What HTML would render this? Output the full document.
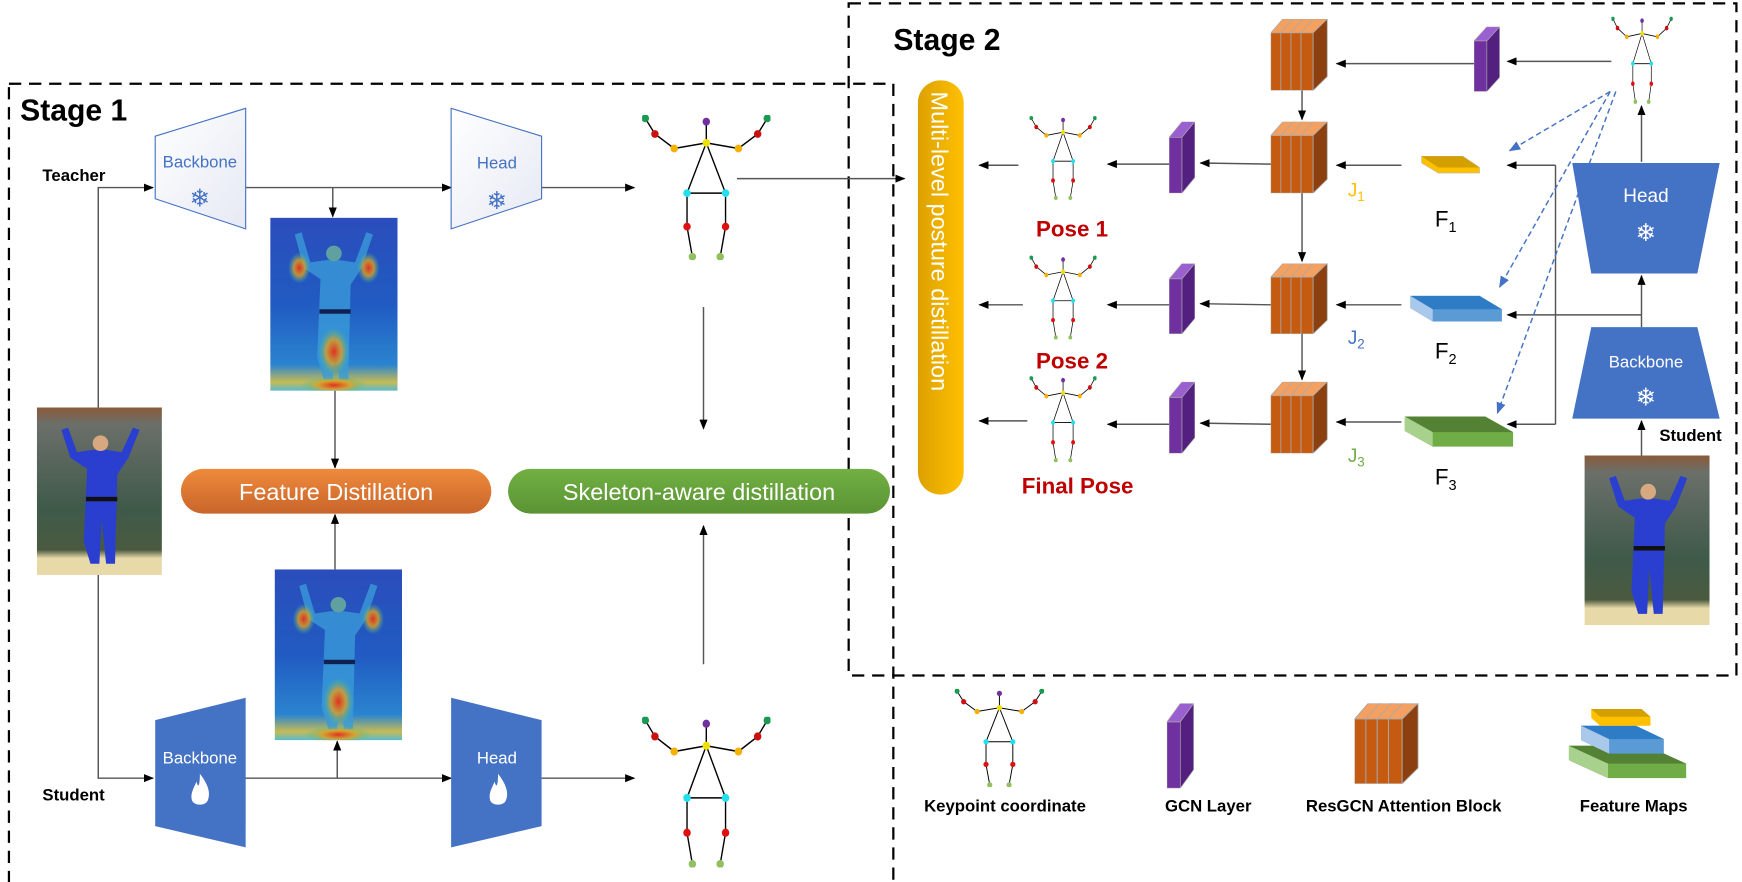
<!DOCTYPE html>
<html><head><meta charset="utf-8"><style>
html,body{margin:0;padding:0;background:#fff;}
svg{display:block;}
text{font-family:"Liberation Sans","DejaVu Sans",sans-serif;}
</style></head><body>
<svg width="1742" height="882" viewBox="0 0 1560 790" preserveAspectRatio="none" xmlns="http://www.w3.org/2000/svg">
<defs>
<marker id="ah" viewBox="0 0 10 10" refX="9" refY="5" markerWidth="7" markerHeight="7" orient="auto"><path d="M0,1 L10,5 L0,9 z" fill="#000"/></marker>
<marker id="ab" viewBox="0 0 10 10" refX="9" refY="5" markerWidth="8" markerHeight="8" orient="auto"><path d="M0,1 L10,5 L0,9 z" fill="#4472c4"/></marker>
<linearGradient id="gw" x1="0" y1="0" x2="1" y2="1"><stop offset="0" stop-color="#fff"/><stop offset="1" stop-color="#e6e9f4"/></linearGradient>
<linearGradient id="gor" x1="0" y1="0" x2="0" y2="1"><stop offset="0" stop-color="#ef8a3c"/><stop offset="1" stop-color="#c8652a"/></linearGradient>
<linearGradient id="ggr" x1="0" y1="0" x2="0" y2="1"><stop offset="0" stop-color="#72b043"/><stop offset="1" stop-color="#5a9434"/></linearGradient>
<linearGradient id="gye" x1="1" y1="0" x2="0" y2="0"><stop offset="0" stop-color="#ffc000"/><stop offset="1" stop-color="#dca100"/></linearGradient>
<linearGradient id="photo" x1="0" y1="0" x2="0" y2="1"><stop offset="0" stop-color="#8a5a3a"/><stop offset="0.1" stop-color="#6b6f6a"/><stop offset="0.6" stop-color="#3f5a4a"/><stop offset="0.85" stop-color="#4a5a40"/><stop offset="0.9" stop-color="#e8d9a8"/><stop offset="1" stop-color="#e8d9a8"/></linearGradient>
<linearGradient id="heat" x1="0" y1="0" x2="0" y2="1"><stop offset="0" stop-color="#2a3fb8"/><stop offset="0.5" stop-color="#1f4fc0"/><stop offset="0.85" stop-color="#2a7fd0"/><stop offset="0.95" stop-color="#e0c040"/><stop offset="1" stop-color="#60c0d0"/></linearGradient>
<radialGradient id="hot" cx="0.5" cy="0.5" r="0.5"><stop offset="0" stop-color="#e03020"/><stop offset="0.5" stop-color="#e0a020" stop-opacity="0.8"/><stop offset="1" stop-color="#30c0a0" stop-opacity="0"/></radialGradient>
<symbol id="sk" viewBox="0 0 120 130" preserveAspectRatio="none">
<g stroke="#000" stroke-width="1.3" fill="none">
<path d="M3,3 L12,17 L30,30 L60,25 L90,30 L108,17 L117,3"/>
<path d="M60,6 L60,25 L42,70 L78,70 L60,25"/>
<path d="M42,70 L42,100 L47,127 M78,70 L78,100 L73,127"/>
</g>
<g>
<circle cx="3" cy="3" r="3.5" fill="#1a9a50"/><circle cx="117" cy="3" r="3.5" fill="#1a9a50"/>
<circle cx="12" cy="17" r="3.5" fill="#cc1010"/><circle cx="108" cy="17" r="3.5" fill="#cc1010"/>
<circle cx="30" cy="30" r="3.5" fill="#f5b000"/><circle cx="90" cy="30" r="3.5" fill="#f5b000"/>
<circle cx="60" cy="6" r="3.5" fill="#7030a0"/><circle cx="60" cy="25" r="3.5" fill="#f0e000"/>
<circle cx="42" cy="70" r="3.5" fill="#20e0f0"/><circle cx="78" cy="70" r="3.5" fill="#20e0f0"/>
<circle cx="42" cy="100" r="3.5" fill="#e01010"/><circle cx="78" cy="100" r="3.5" fill="#e01010"/>
<circle cx="47" cy="127" r="3.5" fill="#90c060"/><circle cx="73" cy="127" r="3.5" fill="#90c060"/>
</g></symbol>
<symbol id="rg" viewBox="0 0 62 72" preserveAspectRatio="none">
<g stroke="#a9a9a9" stroke-width="0.8">
<polygon points="12,0 24,0 12,14 0,14" fill="#f4a060"/>
<polygon points="22,0 34,0 22,14 10,14" fill="#f4a060"/>
<polygon points="32,0 44,0 32,14 20,14" fill="#f4a060"/>
<polygon points="42,0 56,0 42,14 30,14" fill="#f4a060"/>
<rect x="0" y="14" width="10" height="58" fill="#c55a11"/>
<rect x="10" y="14" width="10" height="58" fill="#c55a11"/>
<rect x="20" y="14" width="10" height="58" fill="#c55a11"/>
<rect x="30" y="14" width="12" height="58" fill="#c55a11"/>
<polygon points="42,14 56,0 56,58 42,72" fill="#8c400f"/>
</g></symbol>
<symbol id="gc" viewBox="0 0 24 64" preserveAspectRatio="none">
<g stroke="#a9a9a9" stroke-width="0.6">
<polygon points="0,14 12,0 24,0 12,14" fill="#9a60d0"/>
<rect x="0" y="14" width="12" height="50" fill="#7030a0"/>
<polygon points="12,14 24,0 24,50 12,64" fill="#542080"/>
</g></symbol>
<symbol id="photo1" viewBox="0 0 112 150" preserveAspectRatio="none">
<rect width="112" height="150" fill="url(#photo)"/>
<path d="M22,20 L30,45 L45,55 L42,120 L48,140 L56,140 L58,100 L62,140 L70,140 L72,60 L82,45 L92,20 L86,18 L76,40 L62,38 L50,38 L36,40 L28,18 z" fill="#2a3fd0"/>
<circle cx="57" cy="32" r="7" fill="#d8a880"/>
<rect x="44" y="80" width="28" height="4" fill="#111"/>
</symbol>
<symbol id="heatimg" viewBox="0 0 114 155" preserveAspectRatio="none">
<rect width="114" height="155" fill="url(#heat)"/>
<rect x="0" y="0" width="114" height="155" fill="#30a0d0" opacity="0.15"/>
<path d="M22,15 L30,45 L45,55 L42,125 L48,145 L56,145 L58,105 L62,145 L70,145 L72,60 L82,45 L92,15 L86,13 L76,40 L62,38 L50,38 L36,40 L28,13 z" fill="#3a9ad8" opacity="0.8"/>
<ellipse cx="57" cy="120" rx="14" ry="22" fill="url(#hot)"/>
<ellipse cx="88" cy="45" rx="10" ry="14" fill="url(#hot)"/>
<ellipse cx="26" cy="45" rx="10" ry="14" fill="url(#hot)"/>
<ellipse cx="57" cy="150" rx="30" ry="8" fill="url(#hot)"/>
<circle cx="57" cy="32" r="7" fill="#60a0a0"/>
<rect x="44" y="82" width="28" height="4" fill="#102050"/>
</symbol>
</defs>

<rect x="8" y="75" width="792" height="718" fill="none" stroke="#000" stroke-width="2" stroke-dasharray="11,7"/>
<rect x="760" y="3" width="795" height="602" fill="none" stroke="#000" stroke-width="2" stroke-dasharray="11,7"/>
<text x="18" y="108" font-size="27" font-weight="bold">Stage 1</text>
<text x="800" y="45" font-size="27" font-weight="bold">Stage 2</text>

<text x="38" y="162" font-size="15" font-weight="bold">Teacher</text>
<text x="38" y="717" font-size="15" font-weight="bold">Student</text>
<use href="#photo1" x="33" y="365" width="112" height="150"/>
<g stroke="#555" stroke-width="1.3" fill="none">
<path d="M88,365 L88,168 L137,168" marker-end="url(#ah)"/>
<path d="M88,515 L88,697 L137,697" marker-end="url(#ah)"/>
<path d="M218,168 L404,168" marker-end="url(#ah)"/>
<path d="M298,168 L298,194" marker-end="url(#ah)"/>
<path d="M485,168 L568,168" marker-end="url(#ah)"/>
<path d="M660,160 L810,160" marker-end="url(#ah)"/>
<path d="M630,275 L630,384" marker-end="url(#ah)"/>
<path d="M300,350 L300,419" marker-end="url(#ah)"/>
<path d="M300,510 L300,461" marker-end="url(#ah)"/>
<path d="M630,595 L630,471" marker-end="url(#ah)"/>
<path d="M218,697 L404,697" marker-end="url(#ah)"/>
<path d="M302,697 L302,664" marker-end="url(#ah)"/>
<path d="M485,697 L568,697" marker-end="url(#ah)"/>
</g>
<polygon points="139,122 220,97 220,205 139,178" fill="url(#gw)" stroke="#4472c4" stroke-width="1"/>
<text x="179" y="150" font-size="15" fill="#4472c4" text-anchor="middle">Backbone</text>
<text x="179" y="185" font-size="22" fill="#4472c4" text-anchor="middle">❄</text>
<polygon points="404,97 485,122 485,178 404,205" fill="url(#gw)" stroke="#4472c4" stroke-width="1"/>
<text x="445" y="151" font-size="15" fill="#4472c4" text-anchor="middle">Head</text>
<text x="445" y="187" font-size="22" fill="#4472c4" text-anchor="middle">❄</text>
<use href="#heatimg" x="242" y="195" width="114" height="155"/>
<use href="#sk" x="575" y="103" width="115" height="130"/>
<rect x="162" y="420" width="278" height="40" rx="20" fill="url(#gor)"/>
<text x="301" y="448" font-size="21" fill="#fff" text-anchor="middle">Feature Distillation</text>
<rect x="455" y="420" width="342" height="40" rx="20" fill="url(#ggr)"/>
<text x="626" y="448" font-size="21" fill="#fff" text-anchor="middle">Skeleton-aware distillation</text>

<use href="#heatimg" x="246" y="510" width="114" height="153"/>
<polygon points="139,645 220,625 220,759 139,740" fill="#4472c4"/>
<text x="179" y="684" font-size="15" fill="#fff" text-anchor="middle">Backbone</text>
<path d="M179,693 C186,702 189,710 186,717 C184,722 174,722 172,717 C170,711 174,705 176,700 C177,705 179,706 179,693 z" fill="#fff"/>
<polygon points="404,625 485,645 485,740 404,759" fill="#4472c4"/>
<text x="445" y="684" font-size="15" fill="#fff" text-anchor="middle">Head</text>
<path d="M446,693 C453,702 456,710 453,717 C451,722 441,722 439,717 C437,711 441,705 443,700 C444,705 446,706 446,693 z" fill="#fff"/>
<use href="#sk" x="575" y="642" width="115" height="135"/>

<rect x="822" y="72" width="41" height="371" rx="20" fill="url(#gye)"/>
<text transform="translate(834,82) rotate(90)" font-size="21" fill="#fff">Multi-level posture distillation</text>

<use href="#sk" x="922" y="104" width="60" height="75"/>
<use href="#sk" x="922" y="229" width="60" height="75"/>
<use href="#sk" x="922" y="337" width="60" height="77"/>
<text x="960" y="212" font-size="20" font-weight="bold" fill="#c00000" text-anchor="middle">Pose 1</text>
<text x="960" y="330" font-size="20" font-weight="bold" fill="#c00000" text-anchor="middle">Pose 2</text>
<text x="965" y="442" font-size="20" font-weight="bold" fill="#c00000" text-anchor="middle">Final Pose</text>

<use href="#rg" x="1138" y="17" width="56" height="64"/>
<use href="#rg" x="1138" y="109" width="56" height="64"/>
<use href="#rg" x="1138" y="236" width="56" height="63"/>
<use href="#rg" x="1138" y="342" width="56" height="64"/>
<use href="#gc" x="1047" y="109" width="23" height="64"/>
<use href="#gc" x="1047" y="236" width="23" height="63"/>
<use href="#gc" x="1047" y="342" width="23" height="64"/>
<use href="#gc" x="1320" y="24" width="23" height="58"/>

<g stroke="#555" stroke-width="1.3" fill="none">
<path d="M912,148 L877,148" marker-end="url(#ah)"/>
<path d="M916,273 L877,273" marker-end="url(#ah)"/>
<path d="M920,377 L877,377" marker-end="url(#ah)"/>
<path d="M1047,147 L992,147" marker-end="url(#ah)"/>
<path d="M1047,273 L992,273" marker-end="url(#ah)"/>
<path d="M1047,380 L992,380" marker-end="url(#ah)"/>
<path d="M1138,147 L1075,146" marker-end="url(#ah)"/>
<path d="M1138,273 L1075,272" marker-end="url(#ah)"/>
<path d="M1138,380 L1075,379" marker-end="url(#ah)"/>
<path d="M1166,81 L1166,107" marker-end="url(#ah)"/>
<path d="M1166,173 L1166,234" marker-end="url(#ah)"/>
<path d="M1166,299 L1166,340" marker-end="url(#ah)"/>
<path d="M1320,57 L1197,57" marker-end="url(#ah)"/>
<path d="M1443,55 L1350,55" marker-end="url(#ah)"/>
<path d="M1255,148 L1197,148" marker-end="url(#ah)"/>
<path d="M1255,273 L1197,273" marker-end="url(#ah)"/>
<path d="M1255,378 L1197,378" marker-end="url(#ah)"/>
<path d="M1393,148 L1393,380" />
<path d="M1393,148 L1350,148" marker-end="url(#ah)"/>
<path d="M1393,380 L1350,380" marker-end="url(#ah)"/>
<path d="M1470,282 L1350,282" marker-end="url(#ah)"/>
<path d="M1470,293 L1470,247" marker-end="url(#ah)"/>
<path d="M1470,145 L1470,95" marker-end="url(#ah)"/>
<path d="M1470,410 L1470,377" marker-end="url(#ah)"/>
</g>
<g stroke="#4472c4" stroke-width="1.3" fill="none" stroke-dasharray="5,3">
<path d="M1442,82 L1352,135" marker-end="url(#ab)"/>
<path d="M1442,82 L1343,257" marker-end="url(#ab)"/>
<path d="M1447,82 L1341,370" marker-end="url(#ab)"/>
</g>
<text x="1207" y="176" font-size="17" fill="#ffc000">J<tspan font-size="12" dy="4">1</tspan></text>
<text x="1207" y="308" font-size="17" fill="#4472c4">J<tspan font-size="12" dy="4">2</tspan></text>
<text x="1207" y="414" font-size="17" fill="#70ad47">J<tspan font-size="12" dy="4">3</tspan></text>

<polygon points="1273,140 1310,140 1325,150 1325,155 1288,155 1273,146" fill="#ffc000" stroke="#bbb" stroke-width="0.5"/>
<polygon points="1273,140 1310,140 1325,150 1288,150" fill="#d4a000"/>
<polygon points="1263,265 1325,265 1345,277 1345,288 1283,288 1263,276" fill="#5b9bd5"/>
<polygon points="1263,265 1325,265 1345,277 1283,277" fill="#2e7bc6"/>
<polygon points="1263,265 1283,277 1283,288 1263,276" fill="#a9c8ea"/>
<polygon points="1258,373 1330,373 1355,387 1355,400 1283,400 1258,386" fill="#70ad47"/>
<polygon points="1258,373 1330,373 1355,387 1283,387" fill="#548235"/>
<polygon points="1258,373 1283,387 1283,400 1258,386" fill="#a9d18e"/>
<text x="1285" y="203" font-size="20">F<tspan font-size="13" dy="5">1</tspan></text>
<text x="1285" y="321" font-size="20">F<tspan font-size="13" dy="5">2</tspan></text>
<text x="1285" y="434" font-size="20">F<tspan font-size="13" dy="5">3</tspan></text>

<polygon points="1408,146 1540,146 1520,245 1425,245" fill="#4472c4"/>
<text x="1474" y="181" font-size="17" fill="#fff" text-anchor="middle">Head</text>
<text x="1474" y="216" font-size="22" fill="#fff" text-anchor="middle">❄</text>
<polygon points="1425,293 1520,293 1540,375 1408,375" fill="#4472c4"/>
<text x="1474" y="329" font-size="15" fill="#fff" text-anchor="middle">Backbone</text>
<text x="1474" y="363" font-size="22" fill="#fff" text-anchor="middle">❄</text>
<text x="1486" y="395" font-size="15" font-weight="bold">Student</text>
<use href="#photo1" x="1419" y="408" width="112" height="152"/>
<use href="#sk" x="1443" y="15" width="55" height="78"/>

<use href="#sk" x="855" y="617" width="80" height="88"/>
<text x="900" y="727" font-size="15" font-weight="bold" text-anchor="middle">Keypoint coordinate</text>
<use href="#gc" x="1045" y="630" width="24" height="76"/>
<text x="1082" y="727" font-size="15" font-weight="bold" text-anchor="middle">GCN Layer</text>
<use href="#rg" x="1213" y="630" width="63" height="72"/>
<text x="1257" y="727" font-size="15" font-weight="bold" text-anchor="middle">ResGCN Attention Block</text>
<polygon points="1405,668 1475,668 1510,684 1510,697 1440,697 1405,681" fill="#70ad47"/>
<polygon points="1405,668 1475,668 1510,684 1440,684" fill="#548235"/>
<polygon points="1405,668 1440,684 1440,697 1405,681" fill="#a9d18e"/>
<polygon points="1416,650 1465,650 1490,662 1490,675 1441,675 1416,663" fill="#5b9bd5"/>
<polygon points="1416,650 1465,650 1490,662 1441,662" fill="#2e7bc6"/>
<polygon points="1416,650 1441,662 1441,675 1416,663" fill="#a9c8ea"/>
<polygon points="1425,635 1470,635 1478,642 1478,650 1433,650 1425,643" fill="#ffc000"/>
<polygon points="1425,635 1470,635 1478,642 1433,642" fill="#d4a000"/>
<text x="1463" y="727" font-size="15" font-weight="bold" text-anchor="middle">Feature Maps</text>
</svg>
</body></html>
